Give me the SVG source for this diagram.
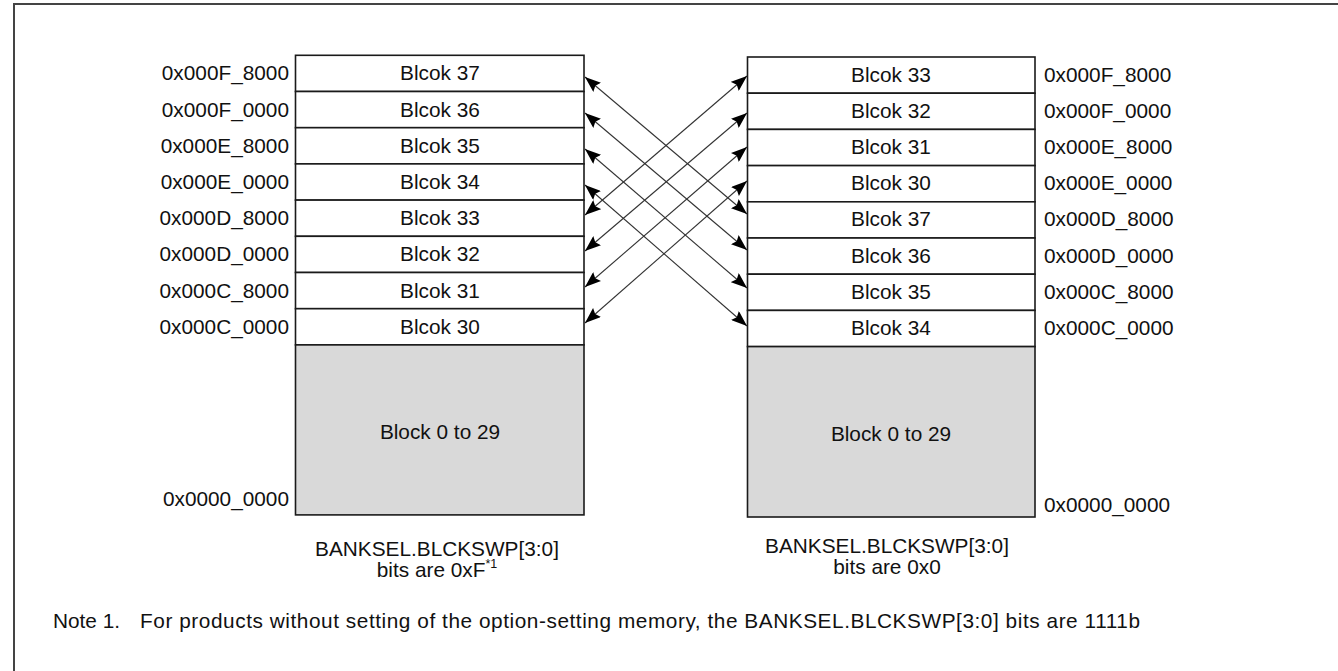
<svg xmlns="http://www.w3.org/2000/svg" width="1338" height="671" viewBox="0 0 1338 671">
<style>
text{font-family:"Liberation Sans",Arial,sans-serif;fill:#111}
.lbl{font-size:20.8px;text-anchor:middle}
.cap{font-size:20.8px;text-anchor:middle}
.addr{font-size:20.8px}
.l{text-anchor:end}
.cell{fill:#fff;stroke:#1a1a1a;stroke-width:1.6}
.gray{fill:#d9d9d9;stroke:#1a1a1a;stroke-width:1.6}
.con{stroke:#333;stroke-width:1.1;fill:none;marker-start:url(#ah);marker-end:url(#ah)}
.note{font-size:20.8px}
</style>
<defs>
<marker id="ah" viewBox="0 0 16 12" refX="16" refY="6" markerWidth="16" markerHeight="12" markerUnits="userSpaceOnUse" orient="auto-start-reverse">
<path d="M0,0 L16,6 L0,12 L2.5,6 Z" fill="#000"/>
</marker>
</defs>
<rect x="14" y="4" width="1340" height="700" fill="#fff" stroke="#444" stroke-width="2"/>

<g id="left-map">
<g id="L37"><rect class="cell" x="295.5" y="55.3" width="288.5" height="36.2"/><text class="lbl" x="440" y="80.4">Blcok 37</text><text class="addr l" x="289" y="80.4">0x000F_8000</text></g>
<g id="L36"><rect class="cell" x="295.5" y="91.5" width="288.5" height="36.2"/><text class="lbl" x="440" y="116.6">Blcok 36</text><text class="addr l" x="289" y="116.6">0x000F_0000</text></g>
<g id="L35"><rect class="cell" x="295.5" y="127.7" width="288.5" height="36.2"/><text class="lbl" x="440" y="152.8">Blcok 35</text><text class="addr l" x="289" y="152.8">0x000E_8000</text></g>
<g id="L34"><rect class="cell" x="295.5" y="163.9" width="288.5" height="36.2"/><text class="lbl" x="440" y="189">Blcok 34</text><text class="addr l" x="289" y="189">0x000E_0000</text></g>
<g id="L33"><rect class="cell" x="295.5" y="200.1" width="288.5" height="36.2"/><text class="lbl" x="440" y="225.2">Blcok 33</text><text class="addr l" x="289" y="225.2">0x000D_8000</text></g>
<g id="L32"><rect class="cell" x="295.5" y="236.3" width="288.5" height="36.2"/><text class="lbl" x="440" y="261.4">Blcok 32</text><text class="addr l" x="289" y="261.4">0x000D_0000</text></g>
<g id="L31"><rect class="cell" x="295.5" y="272.5" width="288.5" height="36.2"/><text class="lbl" x="440" y="297.6">Blcok 31</text><text class="addr l" x="289" y="297.6">0x000C_8000</text></g>
<g id="L30"><rect class="cell" x="295.5" y="308.7" width="288.5" height="36.2"/><text class="lbl" x="440" y="333.8">Blcok 30</text><text class="addr l" x="289" y="333.8">0x000C_0000</text></g>
<g id="L0-29"><rect class="gray" x="295.5" y="344.9" width="288.5" height="170"/><text class="lbl" x="440" y="439">Block 0 to 29</text><text class="addr l" x="289" y="506">0x0000_0000</text></g>
<g id="L-caption"><text class="cap" x="437" y="555.5">BANKSEL.BLCKSWP[3:0]</text><text class="cap" x="437" y="577">bits are 0xF<tspan font-size="12.5" dy="-9">*1</tspan></text></g>
</g>

<g id="right-map">
<g id="R33"><rect class="cell" x="747.5" y="57" width="287.5" height="36.2"/><text class="lbl" x="891" y="81.6">Blcok 33</text><text class="addr" x="1044" y="81.6">0x000F_8000</text></g>
<g id="R32"><rect class="cell" x="747.5" y="93.2" width="287.5" height="36.2"/><text class="lbl" x="891" y="117.8">Blcok 32</text><text class="addr" x="1044" y="117.8">0x000F_0000</text></g>
<g id="R31"><rect class="cell" x="747.5" y="129.4" width="287.5" height="36.2"/><text class="lbl" x="891" y="154">Blcok 31</text><text class="addr" x="1044" y="154">0x000E_8000</text></g>
<g id="R30"><rect class="cell" x="747.5" y="165.6" width="287.5" height="36.2"/><text class="lbl" x="891" y="190.2">Blcok 30</text><text class="addr" x="1044" y="190.2">0x000E_0000</text></g>
<g id="R37"><rect class="cell" x="747.5" y="201.8" width="287.5" height="36.2"/><text class="lbl" x="891" y="226.4">Blcok 37</text><text class="addr" x="1044" y="226.4">0x000D_8000</text></g>
<g id="R36"><rect class="cell" x="747.5" y="238" width="287.5" height="36.2"/><text class="lbl" x="891" y="262.6">Blcok 36</text><text class="addr" x="1044" y="262.6">0x000D_0000</text></g>
<g id="R35"><rect class="cell" x="747.5" y="274.2" width="287.5" height="36.2"/><text class="lbl" x="891" y="298.8">Blcok 35</text><text class="addr" x="1044" y="298.8">0x000C_8000</text></g>
<g id="R34"><rect class="cell" x="747.5" y="310.4" width="287.5" height="36.2"/><text class="lbl" x="891" y="335">Blcok 34</text><text class="addr" x="1044" y="335">0x000C_0000</text></g>
<g id="R0-29"><rect class="gray" x="747.5" y="346.6" width="287.5" height="170.4"/><text class="lbl" x="891" y="441">Block 0 to 29</text><text class="addr" x="1044" y="511.5">0x0000_0000</text></g>
<g id="R-caption"><text class="cap" x="887" y="552.5">BANKSEL.BLCKSWP[3:0]</text><text class="cap" x="887" y="574">bits are 0x0</text></g>
</g>

<g id="connectors">
<line class="con" x1="585" y1="77" x2="747" y2="214"/>
<line class="con" x1="585" y1="113" x2="747" y2="250"/>
<line class="con" x1="585" y1="149" x2="747" y2="288"/>
<line class="con" x1="585" y1="185" x2="747" y2="326"/>
<line class="con" x1="585" y1="215" x2="747" y2="76"/>
<line class="con" x1="585" y1="251" x2="747" y2="113"/>
<line class="con" x1="585" y1="287" x2="747" y2="147"/>
<line class="con" x1="585" y1="323" x2="747" y2="181"/>
</g>

<g id="note">
<text class="note" x="53" y="628">Note 1.</text>
<text class="note" x="140" y="628" textLength="1000" lengthAdjust="spacing">For products without setting of the option-setting memory, the BANKSEL.BLCKSWP[3:0] bits are 1111b</text>
</g>
</svg>
